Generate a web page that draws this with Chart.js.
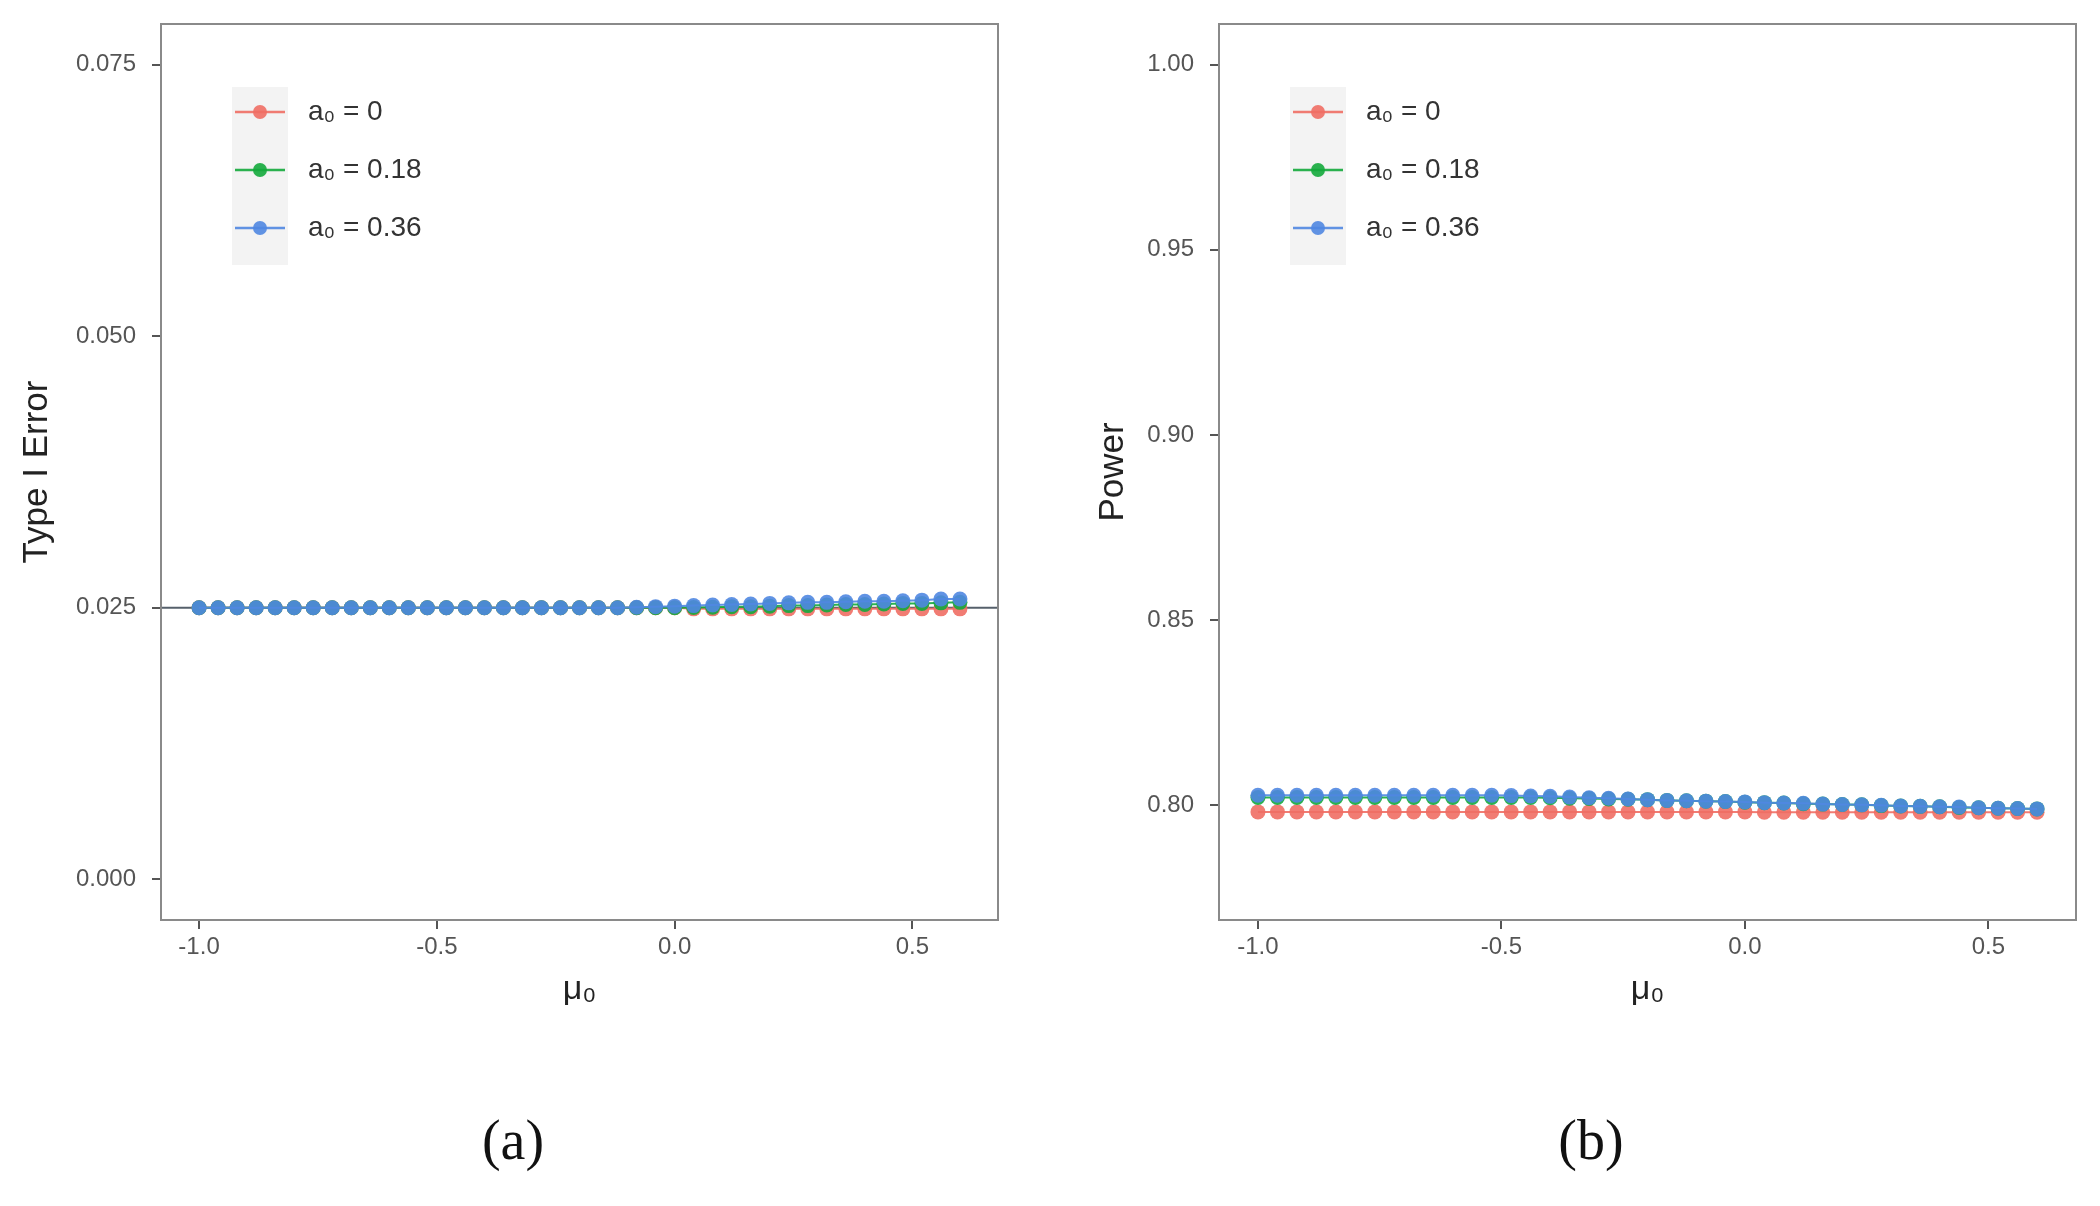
<!DOCTYPE html>
<html>
<head>
<meta charset="utf-8">
<script src="https://cdn.jsdelivr.net/npm/chart.js@4.4.1/dist/chart.umd.min.js"></script>
<style>
  body { margin: 0; background: #fff; }
  #wrap { position: relative; width: 2100px; height: 1206px; }
  .panel { position: absolute; top: 0; width: 1050px; height: 1040px; }
  .cap { position: absolute; top: 1108px; font-family: "Liberation Serif", serif; font-size: 56px; color: #111; transform: translateX(-50%); }
</style>
</head>
<body>
<div id="wrap">
  <div class="panel" style="left:0"><canvas id="errChart"></canvas></div>
  <div class="panel" style="left:1050px"><canvas id="powChart"></canvas></div>
  <div class="cap" style="left:513px">(a)</div>
  <div class="cap" style="left:1591px">(b)</div>
</div>
<script>
// mu0 grid
const muValues = [-1.00, -0.96, -0.92, -0.88, -0.84, -0.80, -0.76, -0.72, -0.68, -0.64,
                  -0.60, -0.56, -0.52, -0.48, -0.44, -0.40, -0.36, -0.32, -0.28, -0.24,
                  -0.20, -0.16, -0.12, -0.08, -0.04, 0.00, 0.04, 0.08, 0.12, 0.16,
                  0.20, 0.24, 0.28, 0.32, 0.36, 0.40, 0.44, 0.48, 0.52, 0.56, 0.60];

const seriesLabels = ['a\u2080 = 0', 'a\u2080 = 0.18', 'a\u2080 = 0.36'];

// (a) type I error
const errA0 = [0.0250, 0.0250, 0.0250, 0.0250, 0.0250, 0.0250, 0.0250, 0.0250, 0.0250, 0.0250,
               0.0250, 0.0250, 0.0250, 0.0250, 0.0250, 0.0250, 0.0250, 0.0250, 0.0250, 0.0250,
               0.0250, 0.0250, 0.0250, 0.0250, 0.0250, 0.0250, 0.0249, 0.0249, 0.0249, 0.0249,
               0.0249, 0.0249, 0.0249, 0.0249, 0.0249, 0.0249, 0.0249, 0.0249, 0.0249, 0.0249, 0.0249];
const errA18 = [0.0250, 0.0250, 0.0250, 0.0250, 0.0250, 0.0250, 0.0250, 0.0250, 0.0250, 0.0250,
                0.0250, 0.0250, 0.0250, 0.0250, 0.0250, 0.0250, 0.0250, 0.0250, 0.0250, 0.0250,
                0.0250, 0.0250, 0.0250, 0.0250, 0.0250, 0.0250, 0.02502, 0.02505, 0.0251, 0.0251,
                0.02515, 0.0252, 0.0252, 0.02525, 0.0253, 0.0253, 0.02535, 0.0254, 0.0254, 0.02545, 0.0255];
const errA36 = [0.0250, 0.0250, 0.0250, 0.0250, 0.0250, 0.0250, 0.0250, 0.0250, 0.0250, 0.0250,
                0.0250, 0.0250, 0.0250, 0.0250, 0.0250, 0.0250, 0.0250, 0.0250, 0.0250, 0.0250,
                0.0250, 0.0250, 0.0250, 0.02505, 0.0251, 0.02515, 0.0252, 0.02525, 0.0253, 0.02535,
                0.0254, 0.02545, 0.0255, 0.0255, 0.02555, 0.0256, 0.0256, 0.02565, 0.0257, 0.0258, 0.0258];
const errTicks = [0, 0.025, 0.050, 0.075];
const errRef = 0.025;

// (b) power
const powA0 = [0.7982, 0.7982, 0.7982, 0.7982, 0.7982, 0.7982, 0.7982, 0.7982, 0.7982, 0.7982,
               0.7982, 0.7982, 0.7982, 0.7982, 0.7982, 0.7982, 0.7982, 0.7982, 0.7982, 0.7982,
               0.7982, 0.7982, 0.7982, 0.7982, 0.7982, 0.7982, 0.7981, 0.7981, 0.7981, 0.7981,
               0.7981, 0.7981, 0.7981, 0.7981, 0.7981, 0.7981, 0.7981, 0.7981, 0.7981, 0.7981, 0.7981];
const powA18 = [0.8021, 0.8021, 0.8021, 0.8021, 0.8021, 0.8021, 0.8021, 0.8021, 0.8021, 0.8021,
                0.8021, 0.8021, 0.8021, 0.8021, 0.8021, 0.8020, 0.8019, 0.8018, 0.8017, 0.8016,
                0.8015, 0.8013, 0.8012, 0.8011, 0.8010, 0.8008, 0.8007, 0.8006, 0.8004, 0.8003,
                0.8002, 0.8001, 0.7999, 0.7998, 0.7997, 0.7996, 0.7994, 0.7993, 0.7992, 0.7991, 0.7990];
const powA36 = [0.8027, 0.8027, 0.8027, 0.8027, 0.8027, 0.8027, 0.8027, 0.8027, 0.8027, 0.8027,
                0.8027, 0.8027, 0.8027, 0.8026, 0.8025, 0.8024, 0.8022, 0.8020, 0.8019, 0.8017,
                0.8015, 0.8013, 0.8012, 0.8011, 0.8010, 0.8009, 0.8007, 0.8006, 0.8005, 0.8003,
                0.8002, 0.8001, 0.8000, 0.7998, 0.7997, 0.7996, 0.7995, 0.7993, 0.7992, 0.7991, 0.7990];
const powTicks = [0.80, 0.85, 0.90, 0.95, 1.00];

const muTicks = [-1.0, -0.5, 0.0, 0.5];

const colRed = 'rgba(240,110,100,0.9)';
const colGreen = 'rgba(20,170,60,0.9)';
const colBlue = 'rgba(80,135,225,0.9)';
const seriesColors = [colRed, colGreen, colBlue];
const sans = '"Liberation Sans", Arial, sans-serif';

function toPoints(ys) {
    return muValues.map(function(x, i) { return { x: x, y: ys[i] }; });
}

// panel border + reference line + legend drawn inside the plot
const panelPlugin = {
    id: 'panelDeco',
    beforeDatasetsDraw: function(chart, args, opts) {
        const ctx = chart.ctx;
        const a = chart.chartArea;
        if (opts.refLine !== undefined) {
            const y = chart.scales.y.getPixelForValue(opts.refLine);
            ctx.save();
            ctx.strokeStyle = '#56606b';
            ctx.lineWidth = 2;
            ctx.beginPath();
            ctx.moveTo(a.left, y);
            ctx.lineTo(a.right, y);
            ctx.stroke();
            ctx.restore();
        }
    },
    afterDraw: function(chart) {
        const ctx = chart.ctx;
        const a = chart.chartArea;
        ctx.save();
        ctx.strokeStyle = '#8a8a8a';
        ctx.lineWidth = 2;
        ctx.strokeRect(a.left, a.top, a.right - a.left, a.bottom - a.top);

        // legend
        const kx = a.left + 71, kw = 56;
        ctx.fillStyle = '#f3f3f3';
        ctx.fillRect(kx, a.top + 63, kw, 178);
        seriesLabels.forEach(function(lbl, i) {
            const cy = a.top + 88 + i * 58;
            ctx.strokeStyle = seriesColors[i];
            ctx.lineWidth = 2.5;
            ctx.beginPath();
            ctx.moveTo(kx + 3, cy);
            ctx.lineTo(kx + kw - 3, cy);
            ctx.stroke();
            ctx.fillStyle = seriesColors[i];
            ctx.beginPath();
            ctx.arc(kx + kw / 2, cy, 7, 0, Math.PI * 2);
            ctx.fill();
            ctx.fillStyle = '#333';
            ctx.font = '28px ' + sans;
            ctx.textBaseline = 'middle';
            ctx.fillText(lbl, a.left + 147, cy);
        });
        ctx.restore();
    }
};

function makeChart(id, series, yMin, yMax, yTicks, yFmt, yTitle, yWidth, titlePad, padRight, refLine) {
    const ctx = document.getElementById(id).getContext('2d');
    // blue drawn on top, red at the bottom
    const datasets = series.map(function(ys, i) {
        return {
            label: seriesLabels[i],
            data: toPoints(ys),
            showLine: true,
            borderColor: seriesColors[i],
            backgroundColor: seriesColors[i],
            borderWidth: 2,
            pointRadius: 7.5,
            pointBorderWidth: 0,
            order: 3 - i
        };
    });
    return new Chart(ctx, {
        type: 'scatter',
        data: { datasets: datasets },
        plugins: [panelPlugin],
        options: {
            responsive: false,
            animation: false,
            layout: { padding: { top: 24, right: padRight, left: 0, bottom: 0 } },
            scales: {
                x: {
                    type: 'linear',
                    min: -1.08,
                    max: 0.68,
                    afterBuildTicks: function(s) { s.ticks = muTicks.map(function(v) { return { value: v }; }); },
                    afterFit: function(s) { s.height = 120; s.paddingLeft = 0; s.paddingRight = 0; },
                    grid: { drawOnChartArea: false, drawTicks: true, tickLength: 9, color: '#555', lineWidth: 2 },
                    border: { display: false },
                    ticks: {
                        font: { family: sans, size: 24 },
                        color: '#555',
                        padding: 4,
                        maxRotation: 0,
                        callback: function(v) { return v.toFixed(1); }
                    },
                    title: {
                        display: true,
                        text: '\u03bc\u2080',
                        font: { family: sans, size: 34 },
                        color: '#222',
                        padding: { top: 0, bottom: 30 }
                    }
                },
                y: {
                    min: yMin,
                    max: yMax,
                    afterBuildTicks: function(s) { s.ticks = yTicks.map(function(v) { return { value: v }; }); },
                    afterFit: function(s) { s.width = yWidth; s.paddingTop = 0; s.paddingBottom = 0; },
                    grid: { drawOnChartArea: false, drawTicks: true, tickLength: 9, color: '#555', lineWidth: 2 },
                    border: { display: false },
                    ticks: {
                        font: { family: sans, size: 24 },
                        color: '#555',
                        padding: 16,
                        callback: function(v) { return v.toFixed(yFmt); }
                    },
                    title: {
                        display: true,
                        text: yTitle,
                        font: { family: sans, size: 35 },
                        color: '#222',
                        padding: { top: titlePad, bottom: 0 }
                    }
                }
            },
            plugins: {
                legend: { display: false },
                tooltip: { enabled: false },
                panelDeco: { refLine: refLine }
            }
        }
    });
}

document.getElementById('errChart').width = 1050;
document.getElementById('errChart').height = 1040;
document.getElementById('powChart').width = 1050;
document.getElementById('powChart').height = 1040;

makeChart('errChart', [errA0, errA18, errA36], -0.00375, 0.07875, errTicks, 3,
          'Type I Error', 161, 16, 52, errRef);
makeChart('powChart', [powA0, powA18, powA36], 0.769, 1.011, powTicks, 2,
          'Power', 169, 42, 24, undefined);
</script>
</body>
</html>
